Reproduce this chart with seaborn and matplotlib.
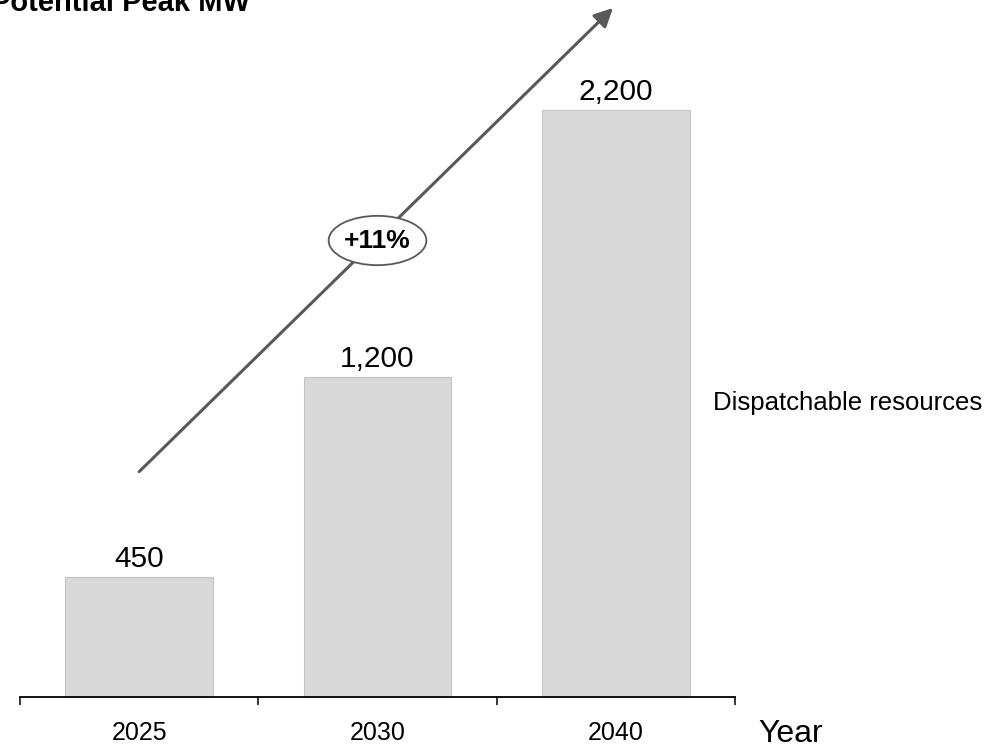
import pandas as pd
import matplotlib.pyplot as plt
import seaborn as sns
from matplotlib.patches import Ellipse

# data
years = ['2025', '2030', '2040']
peak_mw = [450, 1200, 2200]
growth_label = '+11%'
series_name = 'Dispatchable resources'

df = pd.DataFrame({'year': years, 'mw': peak_mw})

sns.set_style('white')
plt.rcParams['font.family'] = ['Liberation Sans', 'DejaVu Sans']
plt.rcParams['text.color'] = 'black'
plt.rcParams['xtick.color'] = 'black'
plt.rcParams['xtick.labelcolor'] = 'black'

fig = plt.figure(figsize=(10.04, 7.47), dpi=100)
ax = fig.add_axes([20 / 1004, 50 / 747, 715 / 1004, 697 / 747])

sns.barplot(data=df, x='year', y='mw', ax=ax, color='#d9d9d9', saturation=1,
            width=0.62, edgecolor='#c4c4c4', linewidth=0.8)

ax.set_xlim(-0.5, 2.5)
ax.set_ylim(0, 2614)

# value labels on top of bars
ax.bar_label(ax.containers[0], labels=[f'{v:,}' for v in peak_mw],
             padding=3, fontsize=21.5, color='black')

# axis styling: only the bottom line, ticks between categories
for s in ['left', 'right', 'top']:
    ax.spines[s].set_visible(False)
ax.spines['bottom'].set_linewidth(1.3)
ax.spines['bottom'].set_color('black')
ax.set_yticks([])
ax.set_xticks([-0.5, 0.5, 1.5, 2.5])
ax.set_xticklabels([])
ax.tick_params(axis='x', which='major', direction='out', length=6,
               width=1.1, color='black', bottom=True)
ax.set_xticks([0, 1, 2], minor=True)
ax.set_xticklabels(years, minor=True, fontsize=18, color='black')
ax.tick_params(axis='x', which='minor', length=0, pad=17)
ax.set_xlabel('')
ax.set_ylabel('')

# growth arrow with CAGR bubble
ax.annotate('', xy=(1.988, 2584), xytext=(0.0, 845),
            arrowprops=dict(arrowstyle='-|>', color='#595959', lw=2.2,
                            mutation_scale=28, shrinkA=0, shrinkB=0),
            annotation_clip=False, zorder=3)
ell = Ellipse((1.0, 1712), width=0.41, height=185, facecolor='white',
              edgecolor='#595959', lw=1.3, zorder=4)
ax.add_patch(ell)
ax.text(1.0, 1712, growth_label, ha='center', va='center', fontsize=19,
        fontweight='bold', color='black', zorder=5)

# series name, axis name and title
fig.text(713 / 1004, 1 - 403 / 747, series_name, ha='left', va='center',
         fontsize=18.5, color='black')
fig.text(758 / 1004, 1 - 742 / 747, 'Year', ha='left', va='baseline',
         fontsize=23, color='black')
fig.text(250 / 1004, 1 - 11 / 747, 'Potential Peak MW', ha='right',
         va='baseline', fontsize=21, fontweight='bold', color='black')

fig.savefig('out.png', dpi=100)
